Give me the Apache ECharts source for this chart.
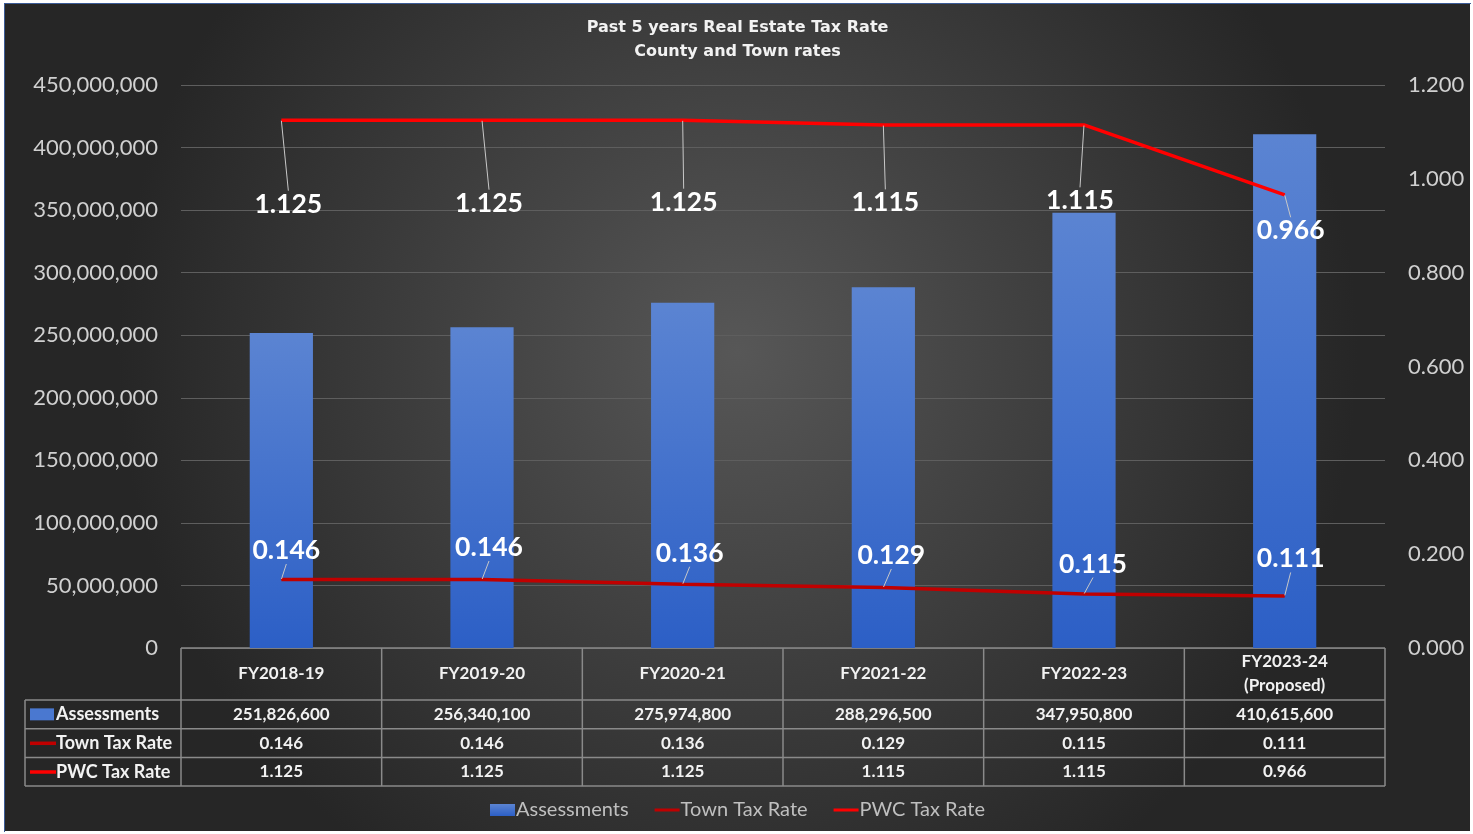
<!DOCTYPE html>
<html>
<head>
<meta charset="utf-8">
<script src="https://cdn.jsdelivr.net/npm/echarts@6/dist/echarts.min.js"></script>
<style>
  html, body { margin: 0; padding: 0; background: #ffffff; width: 1473px; height: 834px; overflow: hidden; }
  #frame { position: absolute; left: 4px; top: 3px; width: 1466px; height: 828px; border-left: 1px solid #3b5b96; border-top: 1px solid #3b5b96; }
  #chart { position: absolute; left: 0; top: 0; width: 1465px; height: 827px; }
</style>
</head>
<body>
<div id="frame"><div id="chart"></div></div>
<script>
// ---- data ----
const categories = ['FY2018-19', 'FY2019-20', 'FY2020-21', 'FY2021-22', 'FY2022-23', 'FY2023-24\n(Proposed)'];
const assessments = [251826600, 256340100, 275974800, 288296500, 347950800, 410615600];
const townRate = [0.146, 0.146, 0.136, 0.129, 0.115, 0.111];
const pwcRate = [1.125, 1.125, 1.125, 1.115, 1.115, 0.966];
const seriesNames = ['Assessments', 'Town Tax Rate', 'PWC Tax Rate'];
const titleLines = ['Past 5 years Real Estate Tax Rate', 'County and Town rates'];

// ---- styling ----
const FONT = 'Lato, "Open Sans", sans-serif';
const TITLE_FONT = '"DejaVu Sans", sans-serif';
const BAR_TOP = '#5b84d2';
const BAR_BOTTOM = '#2c5fc6';
const TOWN_COLOR = '#c00000';
const PWC_COLOR = '#ff0000';
const pwcLabelShift = [[7, 84], [7, 83], [1, 82], [2, 78], [-4, 76], [6, 36]];
const townLabelShift = [[5, -29], [7, -32], [7, -31], [8, -32], [9, -30], [6, -37]];
const LINE_ICON = 'path://M0,0 L26,0 L26,0 Z M0,4.5 L26,4.5 L26,7.5 L0,7.5 Z M0,12 L26,12 L26,12 Z';

const fmtInt = v => Math.round(v).toLocaleString('en-US');
const fmt3 = v => v.toFixed(3);

const chart = echarts.init(document.getElementById('chart'), null, { renderer: 'canvas' });

const GRID = { left: 176, right: 85, top: 81, bottom: 183 };

chart.setOption({
  backgroundColor: {
    type: 'radial', x: 0.5, y: 0.42, r: 0.75,
    colorStops: [{ offset: 0, color: '#575757' }, { offset: 1, color: '#262626' }]
  },
  animation: false,
  textStyle: { fontFamily: FONT },
  title: {
    text: titleLines.join('\n'),
    left: 'center', top: 7,
    textStyle: { color: '#f2f2f2', fontSize: 16, fontWeight: 'bold', lineHeight: 24, fontFamily: TITLE_FONT }
  },
  legend: {
    bottom: 6, left: 'center',
    itemWidth: 25, itemHeight: 12, itemGap: 26,
    textStyle: { color: '#bfbfbf', fontSize: 20, fontFamily: FONT, padding: [0, 0, 0, -4] },
    data: [
      { name: seriesNames[0], icon: 'rect' },
      { name: seriesNames[1], icon: LINE_ICON },
      { name: seriesNames[2], icon: LINE_ICON }
    ]
  },
  grid: GRID,
  xAxis: {
    type: 'category', data: categories,
    axisLine: { show: false }, axisTick: { show: false }, axisLabel: { show: false },
    splitLine: { show: false }
  },
  yAxis: [
    {
      type: 'value', min: 0, max: 450000000, interval: 50000000,
      axisLabel: { formatter: fmtInt, color: '#d0d0d0', fontSize: 22, margin: 23, fontFamily: FONT },
      splitLine: { lineStyle: { color: '#5e5e5e', width: 1 } },
      axisLine: { show: false }, axisTick: { show: false }
    },
    {
      type: 'value', min: 0, max: 1.2, interval: 0.2,
      axisLabel: { formatter: fmt3, color: '#d0d0d0', fontSize: 22, margin: 23, fontFamily: FONT },
      splitLine: { show: false },
      axisLine: { show: false }, axisTick: { show: false }
    }
  ],
  series: [
    {
      name: seriesNames[0], type: 'bar', data: assessments, barWidth: '31.5%', yAxisIndex: 0,
      itemStyle: {
        color: { type: 'linear', x: 0, y: 0, x2: 0, y2: 1,
          colorStops: [{ offset: 0, color: BAR_TOP }, { offset: 1, color: BAR_BOTTOM }] }
      }
    },
    {
      name: seriesNames[1], type: 'line', data: townRate, yAxisIndex: 1,
      symbol: 'circle', symbolSize: 1, showSymbol: true,
      itemStyle: { color: TOWN_COLOR },
      lineStyle: { color: TOWN_COLOR, width: 3.5 },
      label: {
        show: true, position: 'inside', formatter: p => fmt3(p.value),
        color: '#ffffff', fontSize: 26.5, fontWeight: 'bold', fontFamily: FONT
      },
      labelLine: { show: true, length2: 0, lineStyle: { color: '#c8c8c8', width: 1 } },
      labelLayout: p => ({ dx: townLabelShift[p.dataIndex][0], dy: townLabelShift[p.dataIndex][1] }),
      z: 3
    },
    {
      name: seriesNames[2], type: 'line', data: pwcRate, yAxisIndex: 1,
      symbol: 'circle', symbolSize: 1, showSymbol: true,
      itemStyle: { color: PWC_COLOR },
      lineStyle: { color: PWC_COLOR, width: 3.5 },
      label: {
        show: true, position: 'inside', formatter: p => fmt3(p.value),
        color: '#ffffff', fontSize: 26.5, fontWeight: 'bold', fontFamily: FONT
      },
      labelLine: { show: true, length2: 0, lineStyle: { color: '#c8c8c8', width: 1 } },
      labelLayout: p => ({ dx: pwcLabelShift[p.dataIndex][0], dy: pwcLabelShift[p.dataIndex][1] }),
      z: 3
    }
  ]
});

// ---- data table under the plot, built from the arrays and the axis scale ----
function buildTable() {
  const c0 = chart.convertToPixel({ xAxisIndex: 0 }, 0);
  const c1 = chart.convertToPixel({ xAxisIndex: 0 }, 1);
  const cw = c1 - c0;
  const gx0 = c0 - cw / 2;
  const gx1 = gx0 + cw * categories.length;
  const y0 = chart.convertToPixel({ yAxisIndex: 0 }, 0);
  const headerH = 52;
  const rowH = 28.7;
  const rows = [assessments.map(fmtInt), townRate.map(fmt3), pwcRate.map(fmt3)];
  const tableLeft = 20;
  const yBottom = y0 + headerH + rowH * rows.length;
  const lineStyle = { stroke: '#8a8a8a', lineWidth: 1.5 };
  const g = [];
  const hline = (x1, x2, y) => g.push({ type: 'line', shape: { x1, y1: y, x2, y2: y }, style: lineStyle, silent: true });
  const vline = (x, y1, y2) => g.push({ type: 'line', shape: { x1: x, y1, x2: x, y2 }, style: lineStyle, silent: true });
  hline(gx0, gx1, y0);
  for (let r = 0; r <= rows.length; r++) hline(tableLeft, gx1, y0 + headerH + r * rowH);
  vline(tableLeft, y0 + headerH, yBottom);
  for (let i = 0; i <= categories.length; i++) vline(gx0 + i * cw, y0, yBottom);
  const txt = { fill: '#f2f2f2', fontSize: 17, fontWeight: 'bold', fontFamily: FONT, align: 'center', verticalAlign: 'middle', lineHeight: 24 };
  categories.forEach((c, i) => {
    g.push({ type: 'text', x: gx0 + (i + 0.5) * cw, y: y0 + headerH / 2, style: Object.assign({ text: c }, txt), silent: true });
  });
  rows.forEach((row, r) => {
    const cy = y0 + headerH + (r + 0.5) * rowH;
    row.forEach((v, i) => {
      g.push({ type: 'text', x: gx0 + (i + 0.5) * cw, y: cy, style: Object.assign({ text: v }, txt), silent: true });
    });
    if (r === 0) {
      g.push({ type: 'rect', shape: { x: tableLeft + 5, y: cy - 6, width: 24, height: 12 }, style: { fill: '#4a78d0' }, silent: true });
    } else {
      g.push({ type: 'rect', shape: { x: tableLeft + 5, y: cy - 1.5, width: 26, height: 3.5 }, style: { fill: r === 1 ? TOWN_COLOR : PWC_COLOR }, silent: true });
    }
    g.push({ type: 'text', x: tableLeft + 31, y: cy, style: Object.assign({}, txt, { text: seriesNames[r], align: 'left', fontSize: 18 }), silent: true });
  });
  chart.setOption({ graphic: g });
}
buildTable();
</script>
</body>
</html>
